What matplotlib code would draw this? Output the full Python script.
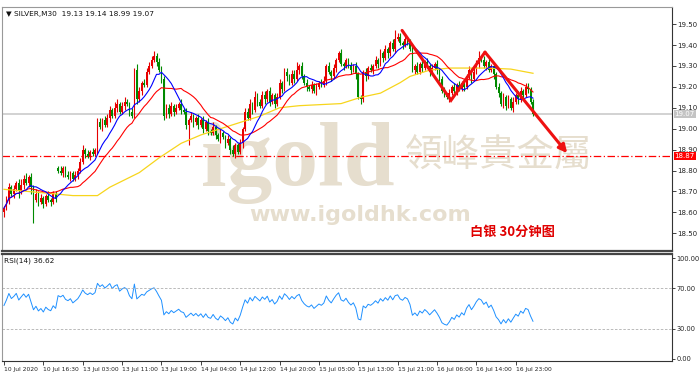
import numpy as np
import pandas as pd
import matplotlib.pyplot as plt

# SILVER M30 candles (one value per bar)
closes = [
    18.62, 18.66, 18.72, 18.69, 18.71, 18.74, 18.70, 18.73, 18.76, 18.74,
    18.77, 18.72, 18.66, 18.69, 18.65, 18.67, 18.64, 18.68, 18.66, 18.65,
    18.69, 18.67, 18.80, 18.79, 18.81, 18.78, 18.77, 18.79, 18.76, 18.78,
    18.80, 18.84, 18.90, 18.88, 18.87, 18.89, 18.88, 18.90, 19.03, 19.01,
    19.04, 19.02, 19.05, 19.09, 19.06, 19.10, 19.12, 19.08, 19.11, 19.13,
    19.12, 19.08, 19.06, 19.28, 19.14, 19.18, 19.22, 19.21, 19.27, 19.30,
    19.33, 19.35, 19.32, 19.28, 19.24, 19.06, 19.10, 19.07, 19.11, 19.08,
    19.10, 19.12, 19.09, 19.08, 19.02, 19.04, 19.06, 19.03, 19.05, 19.02,
    19.04, 19.00, 19.03, 18.99, 18.98, 19.01, 18.97, 18.95, 18.98, 18.96,
    18.93, 18.95, 18.90, 18.88, 18.92, 18.89, 18.93, 19.00, 19.08, 19.05,
    19.12, 19.09, 19.15, 19.13, 19.11, 19.16, 19.14, 19.18, 19.13, 19.16,
    19.12, 19.15, 19.22, 19.19, 19.27, 19.25, 19.22, 19.26, 19.24, 19.28,
    19.30, 19.25, 19.22, 19.20, 19.19, 19.21, 19.18, 19.20, 19.22, 19.21,
    19.23, 19.30, 19.27, 19.25, 19.29, 19.33, 19.36, 19.31, 19.30, 19.33,
    19.30, 19.28, 19.30, 19.26, 19.15, 19.14, 19.27, 19.25, 19.29, 19.28,
    19.30, 19.33, 19.31, 19.36, 19.34, 19.38, 19.36, 19.41, 19.38, 19.43,
    19.44, 19.41, 19.40, 19.43, 19.42, 19.38, 19.28, 19.30, 19.27, 19.31,
    19.29, 19.32, 19.30, 19.27, 19.29, 19.31, 19.28, 19.24, 19.18, 19.16,
    19.15, 19.17, 19.20, 19.18, 19.21, 19.19, 19.22, 19.20, 19.25, 19.28,
    19.24, 19.27, 19.31, 19.34, 19.33, 19.30, 19.32, 19.28, 19.30, 19.26,
    19.20, 19.17, 19.12, 19.15, 19.11, 19.14, 19.10, 19.13, 19.16, 19.14,
    19.18, 19.16, 19.20, 19.19, 19.13, 19.07,
]
first_open = 18.60
gap_opens = {22: 18.81}

# wick lengths in cents above / below the body
upper_wick = [
    1, 2, 2, 1, 2, 1, 2, 3, 2, 3, 1, 2, 1, 2, 1, 2, 1, 1, 2, 1,
    1, 1, 1, 2, 1, 1, 2, 1, 1, 2, 1, 2, 2, 1, 2, 1, 2, 1, 2, 2,
    1, 2, 2, 2, 1, 3, 2, 1, 2, 2, 1, 1, 2, 1, 3, 2, 1, 2, 2, 2,
    2, 2, 1, 2, 2, 1, 2, 2, 2, 1, 2, 1, 2, 1, 2, 1, 2, 1, 1, 2,
    1, 2, 1, 2, 1, 2, 1, 1, 2, 1, 1, 2, 1, 2, 1, 1, 2, 1, 2, 2,
    2, 1, 3, 2, 1, 2, 2, 1, 2, 1, 1, 2, 2, 1, 2, 2, 1, 2, 2, 4,
    1, 2, 1, 2, 1, 2, 1, 2, 1, 2, 2, 1, 2, 1, 2, 1, 1, 2, 1, 1,
    1, 2, 1, 2, 1, 1, 1, 2, 1, 2, 1, 2, 1, 2, 1, 2, 1, 1, 2, 4,
    2, 2, 1, 2, 1, 1, 2, 1, 2, 1, 2, 1, 2, 1, 2, 1, 2, 1, 1, 2,
    1, 2, 1, 2, 1, 2, 1, 2, 1, 2, 1, 2, 2, 3, 1, 2, 1, 2, 1, 1,
    1, 2, 1, 2, 1, 2, 1, 2, 1, 2, 2, 1, 2, 2, 1, 1,
]
lower_wick = [
    2, 1, 2, 1, 2, 1, 3, 1, 2, 1, 2, 3, 11, 1, 2, 1, 2, 1, 1, 2,
    1, 2, 1, 1, 2, 1, 1, 2, 1, 1, 2, 1, 1, 2, 1, 2, 1, 1, 2, 1,
    2, 1, 1, 2, 1, 1, 2, 1, 1, 2, 1, 2, 1, 1, 2, 1, 2, 1, 1, 1,
    1, 1, 2, 1, 2, 2, 1, 2, 1, 2, 1, 1, 2, 1, 2, 10, 1, 2, 1, 2,
    1, 2, 1, 2, 1, 1, 2, 1, 2, 1, 2, 1, 2, 1, 2, 1, 1, 2, 1, 1,
    1, 2, 1, 2, 1, 1, 2, 1, 2, 1, 2, 1, 1, 2, 1, 2, 1, 1, 2, 1,
    2, 1, 1, 2, 1, 2, 1, 2, 1, 1, 1, 2, 1, 2, 1, 2, 1, 1, 2, 1,
    1, 2, 1, 2, 1, 2, 1, 2, 1, 1, 2, 1, 2, 1, 2, 1, 2, 1, 1, 2,
    1, 1, 2, 1, 2, 1, 1, 2, 1, 1, 2, 1, 1, 2, 1, 1, 2, 1, 1, 1,
    1, 2, 1, 1, 2, 1, 1, 2, 1, 1, 2, 1, 1, 2, 1, 1, 2, 1, 1, 2,
    1, 2, 1, 2, 2, 1, 1, 2, 1, 2, 1, 2, 1, 2, 1, 1,
]

# slow moving average (yellow), sampled along the line
yellow_idx = [0, 19, 28, 38, 43, 55, 63, 72, 80, 88, 96, 104, 112, 120,
              137, 145, 153, 161, 165, 173, 181, 197, 206, 215]
yellow_val = [18.71, 18.69, 18.68, 18.68, 18.72, 18.79, 18.86, 18.93, 18.97,
              19.00, 19.03, 19.06, 19.10, 19.11, 19.12, 19.15, 19.17, 19.22,
              19.25, 19.28, 19.29, 19.29, 19.285, 19.265]

date_labels = ["10 Jul 2020", "10 Jul 16:30", "13 Jul 03:00", "13 Jul 11:00",
               "13 Jul 19:00", "14 Jul 04:00", "14 Jul 12:00", "14 Jul 20:00",
               "15 Jul 05:00", "15 Jul 13:00", "15 Jul 21:00", "16 Jul 06:00",
               "16 Jul 14:00", "16 Jul 23:00"]
date_ticks = [0, 16, 32, 48, 64, 80, 96, 112, 128, 144, 160, 176, 192, 208]

# hand-drawn zigzag arrow (bar index, price)
arrow_idx = [161.8, 181.7, 195.5, 228.9]
arrow_val = [19.47, 19.136, 19.366, 18.883]

support_level = 18.87
last_price = 19.07

UP = "#e60000"
DOWN = "#008a00"
BEIGE = "#e6dece"

n = len(closes)
x = np.arange(n)
c = np.array(closes)
o = np.array([first_open] + closes[:-1])
for k, v in gap_opens.items():
    o[k] = v
hi = np.maximum(o, c) + np.array(upper_wick) / 100.0
lo = np.minimum(o, c) - np.array(lower_wick) / 100.0
up = c >= o
cols = np.where(up, UP, DOWN)

s = pd.Series(c)
ma_fast = s.rolling(10, min_periods=1).mean()
ma_mid = s.rolling(20, min_periods=1).mean()

# Wilder RSI(14), started from a neutral state
avg_gain, avg_loss = 0.012, 0.012
rsi = []
prev = first_open
for price in closes:
    d = price - prev
    avg_gain = (avg_gain * 13 + max(d, 0)) / 14
    avg_loss = (avg_loss * 13 + max(-d, 0)) / 14
    rsi.append(100 - 100 / (1 + avg_gain / avg_loss))
    prev = price

fig = plt.figure(figsize=(7, 3.75), dpi=100)
ax = fig.add_axes([2 / 700, 1 - 251 / 375, 670 / 700, 244 / 375])
ax2 = fig.add_axes([2 / 700, 1 - 361 / 375, 670 / 700, 107 / 375])

# watermark
ax.text(0.425, 0.507, "igold", transform=fig.transFigure, ha="center",
        va="baseline", fontsize=66, fontweight="bold", family="Liberation Serif",
        color=BEIGE, zorder=0)
ax.text(0.578, 0.585, "領峰貴金屬", transform=fig.transFigure, ha="left",
        va="center", fontsize=27, family="Noto Sans CJK TC", color=BEIGE, zorder=0)
ax.text(0.514, 0.427, "www.igoldhk.com", transform=fig.transFigure, ha="center",
        va="center", fontsize=16, fontweight="bold", family="DejaVu Sans",
        color=BEIGE, zorder=0)

# candles
ax.vlines(x, lo, hi, colors=cols, linewidth=0.8, zorder=3)
ax.bar(x, np.maximum(np.abs(c - o), 0.004), bottom=np.minimum(o, c), width=0.7,
       color=cols, linewidth=0, zorder=3)

ax.plot(yellow_idx, yellow_val, color="#f7d51c", lw=0.9, zorder=4)
ax.plot(x, ma_mid, color="#ff0000", lw=0.8, zorder=4)
ax.plot(x, ma_fast, color="#0000ff", lw=0.8, zorder=4)

ax.axhline(last_price, color="#cfcfcf", lw=1.3, zorder=2)
ax.axhline(support_level, color="#ff0000", lw=0.9, ls=(0, (6, 2, 1, 2)), zorder=2)

ax.plot(arrow_idx[:3], arrow_val[:3], color="#ee1111", lw=2.2,
        solid_capstyle="round", solid_joinstyle="miter", zorder=6)
ax.annotate("", xy=(arrow_idx[3], arrow_val[3]), xytext=(arrow_idx[2], arrow_val[2]),
            arrowprops=dict(arrowstyle="-|>", color="#ee1111", lw=2.2,
                            mutation_scale=12, shrinkA=0, shrinkB=0), zorder=6)

ax.text(0.671, 0.381, "白银 30分钟图", transform=fig.transFigure, ha="left",
        va="center", fontsize=9.5, fontweight="bold", family="Noto Sans CJK SC",
        color="#e00000", zorder=7)

ax.set_xlim(-0.8, 271.5)
ax.set_ylim(18.415, 19.582)
ax.yaxis.tick_right()
ax.set_yticks(np.arange(18.5, 19.51, 0.1))
ax.set_yticklabels([f"{v:.2f}" for v in np.arange(18.5, 19.51, 0.1)])
ax.tick_params(axis="y", labelsize=5, length=3, width=0.6, pad=1, colors="#222222")
ax.set_xticks([])

ylab = ax.get_yaxis_transform()
ax.text(1.004, support_level, f"{support_level:.2f}", transform=ylab, color="white",
        fontsize=5, va="center", ha="left",
        bbox=dict(facecolor="#ff0000", edgecolor="none", pad=0.6), zorder=8)
ax.text(1.004, last_price, f"{last_price:.2f}", transform=ylab, color="white",
        fontsize=5, va="center", ha="left",
        bbox=dict(facecolor="#c4c4c4", edgecolor="none", pad=0.6), zorder=8)

ax.text(0.006, 0.985, "▼ SILVER,M30  19.13 19.14 18.99 19.07", transform=ax.transAxes,
        fontsize=5.3, va="top", ha="left", color="#111111")

for sp in ["left", "top"]:
    ax.spines[sp].set_color("#999999")
    ax.spines[sp].set_linewidth(0.8)
ax.spines["right"].set_color("#333333")
ax.spines["bottom"].set_color("#444444")
ax.spines["bottom"].set_linewidth(1.6)

# RSI panel
ax2.plot(x, rsi, color="#1e90ff", lw=0.7)
for lvl in [70, 30]:
    ax2.axhline(lvl, color="#b0b0b0", lw=0.6, ls=(0, (3, 2)))
ax2.set_xlim(-0.8, 271.5)
ax2.set_ylim(-2, 104)
ax2.yaxis.tick_right()
ax2.set_yticks([0, 30, 70, 100])
ax2.set_yticklabels(["0.00", "30.00", "70.00", "100.00"])
ax2.tick_params(axis="y", labelsize=4.8, length=2.5, width=0.6, pad=0.8, colors="#222222")
ax2.set_xticks(date_ticks)
ax2.set_xticklabels(date_labels, ha="left", fontsize=4.3)
ax2.tick_params(axis="x", length=3, width=0.6, pad=1, colors="#222222")
ax2.text(0.003, 0.97, "RSI(14) 36.62", transform=ax2.transAxes, fontsize=5.3,
         va="top", ha="left", color="#111111")
ax2.spines["top"].set_color("#444444")
ax2.spines["top"].set_linewidth(1.6)
ax2.spines["left"].set_color("#999999")
ax2.spines["right"].set_color("#333333")
ax2.spines["bottom"].set_color("#333333")

fig.savefig("out.png", dpi=100, facecolor="white")
